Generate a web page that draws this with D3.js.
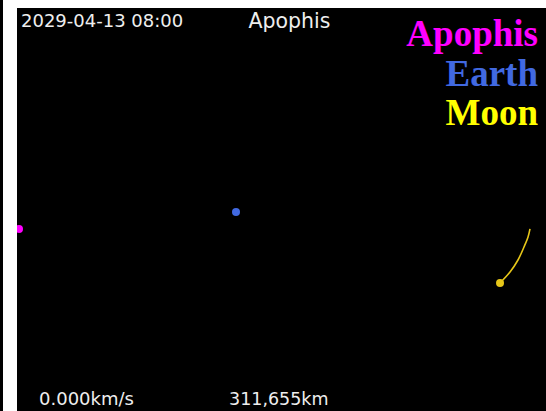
<!DOCTYPE html>
<html><head><meta charset="utf-8">
<script src="https://cdn.jsdelivr.net/npm/d3@7"></script>
<style>html,body{margin:0;padding:0;background:#fff;}svg{display:block;}</style>
</head><body>
<svg id="c" width="546" height="411"></svg>
<script>
// Positions in thousands of km relative to Earth (y up)
const bodies = ["Apophis", "Earth", "Moon"];
const bodyX = [-310.5, 0, 377.8];
const bodyY = [-24.3, 0, -101.6];
const bodyColors = ["#ff00ff", "#4169e1", "#e6c619"];
const legendColors = ["#ff00ff", "#4169e1", "#ffff00"];
const moonTrackX = [377.8, 392.1, 403.5, 412.1, 417.9, 420.7];
const moonTrackY = [-101.6, -85.9, -68.7, -50.1, -35.8, -24.3];
const timeLabel = "2029-04-13 08:00";
const titleLabel = "Apophis";
const speedLabel = "0.000km/s";
const distanceLabel = "311,655km";

(function () {
const svg = d3.select("#c");
const W = 546, H = 411;
const padL = 17, padT = 8;
const x = d3.scaleLinear().domain([-313.4, 443.6]).range([padL, W]);
const y = d3.scaleLinear().domain([291.9, -284.8]).range([padT, H]);

svg.append("rect").attr("x", 0).attr("y", 0).attr("width", 3).attr("height", H).attr("fill", "#000");
svg.append("rect").attr("x", padL).attr("y", padT).attr("width", W - padL).attr("height", H - padT).attr("fill", "#000");

svg.append("clipPath").attr("id", "clip").append("rect")
  .attr("x", padL).attr("y", padT).attr("width", W - padL).attr("height", H - padT);
const g = svg.append("g").attr("clip-path", "url(#clip)");

const track = moonTrackX.map((v, i) => [v, moonTrackY[i]]);
g.append("path")
  .attr("d", d3.line().x(d => x(d[0])).y(d => y(d[1])).curve(d3.curveCatmullRom)(track))
  .attr("fill", "none").attr("stroke", bodyColors[2]).attr("stroke-width", 1.6);

g.selectAll("circle.body").data(bodies).join("circle")
  .attr("class", "body")
  .attr("cx", (d, i) => x(bodyX[i]))
  .attr("cy", (d, i) => y(bodyY[i]))
  .attr("r", 4)
  .attr("fill", (d, i) => bodyColors[i]);

const txt = (s, tx, ty, anchor, fs) => svg.append("text").text(s)
  .attr("x", tx).attr("y", ty).attr("text-anchor", anchor)
  .attr("fill", "#eeeeee").attr("font-family", "DejaVu Sans, Verdana, sans-serif").attr("font-size", fs);
txt(timeLabel, 21, 27, "start", 18);
txt(titleLabel, 289.5, 28, "middle", 20.5);
txt(speedLabel, 39, 405, "start", 18);
txt(distanceLabel, 229, 405, "start", 17.5);

svg.selectAll("text.legend").data(bodies).join("text")
  .attr("class", "legend")
  .text(d => d)
  .attr("x", 538)
  .attr("y", (d, i) => 46 + i * 39.5)
  .attr("text-anchor", "end")
  .attr("fill", (d, i) => legendColors[i])
  .attr("font-family", "Liberation Serif, Times New Roman, serif")
  .attr("font-weight", "bold")
  .attr("font-size", 37);
})();
</script>
</body></html>
